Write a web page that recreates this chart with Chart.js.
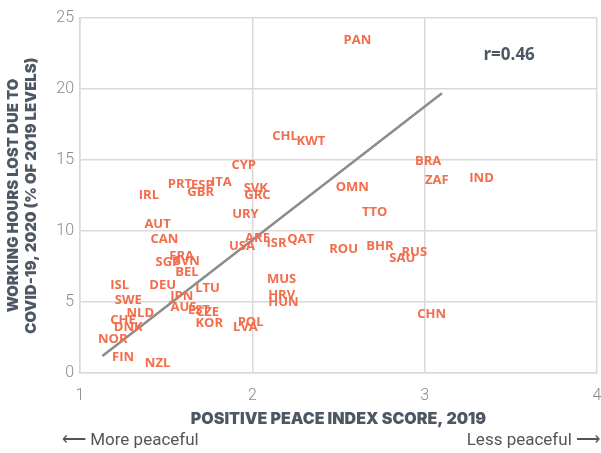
<!DOCTYPE html>
<html>
<head>
<meta charset="utf-8">
<script src="https://cdn.jsdelivr.net/npm/chart.js@4"></script>
<style>
  html, body { margin: 0; padding: 0; background: #fff; }
  #wrap { position: relative; width: 601px; height: 453px; }
</style>
</head>
<body>
<div id="wrap"><canvas id="grafico" width="601" height="453"></canvas></div>
<script>
// datos
const paises = ['PAN','CHL','KWT','CYP','PRT','ESP','ITA','GBR','IRL','SVK','GRC','URY','AUT','CAN','ARE','USA','ISR','QAT','FRA','SGP','SVN','BEL','ISL','DEU','LTU','SWE','JPN','AUS','EST','CZE','NLD','CHE','DNK','KOR','POL','LVA','NOR','FIN','NZL','MUS','HRV','HUN','ROU','OMN','TTO','BRA','ZAF','IND','BHR','RUS','SAU','CHN'];
const indicePaz = [2.61,2.19,2.34,1.95,1.58,1.71,1.82,1.70,1.40,2.02,2.03,1.96,1.45,1.49,2.03,1.94,2.14,2.28,1.59,1.51,1.62,1.62,1.23,1.48,1.74,1.28,1.59,1.60,1.69,1.74,1.35,1.25,1.28,1.75,1.99,1.96,1.19,1.25,1.45,2.17,2.17,2.18,2.53,2.58,2.71,3.02,3.07,3.33,2.74,2.94,2.87,3.04];
const horasPerdidas = [23.4,16.7,16.3,14.6,13.3,13.2,13.4,12.7,12.5,13.0,12.5,11.2,10.5,9.4,9.5,8.9,9.1,9.4,8.2,7.8,7.9,7.1,6.2,6.2,6.0,5.1,5.4,4.6,4.4,4.3,4.2,3.7,3.2,3.5,3.6,3.2,2.4,1.1,0.7,6.6,5.5,5.0,8.7,13.1,11.3,14.9,13.6,13.7,8.9,8.5,8.1,4.1];
const tendenciaX = [1.13, 3.10];
const tendenciaY = [1.2, 19.7];
const ticksX = [1, 2, 3, 4];
const ticksY = [0, 5, 10, 15, 20, 25];

const NARANJA = '#f36c4b';
const GRIS_TEXTO = '#4e5764';

// Etiquetas de país dibujadas en cada punto
const etiquetasPlugin = {
    id: 'etiquetas',
    afterDatasetsDraw(chart) {
        const { ctx } = chart;
        const meta = chart.getDatasetMeta(1);
        ctx.save();
        ctx.font = 'bold 13px "Open Sans", sans-serif';
        ctx.fillStyle = NARANJA;
        ctx.textAlign = 'center';
        ctx.textBaseline = 'middle';
        meta.data.forEach((pt, i) => {
            ctx.fillText(paises[i], pt.x, pt.y);
        });
        // r=0.46
        const xs = chart.scales.x, ys = chart.scales.y;
        ctx.font = 'bold 17px "Open Sans", sans-serif';
        ctx.fillStyle = GRIS_TEXTO;
        ctx.fillText('r=0.46', xs.getPixelForValue(3.49), ys.getPixelForValue(22.4));
        // flechas inferiores
        ctx.font = '17px Roboto, sans-serif';
        ctx.fillStyle = '#555';
        ctx.textAlign = 'left';
        ctx.fillText('\u27F5 More peaceful', 62, 441);
        ctx.textAlign = 'right';
        ctx.fillText('Less peaceful \u27F6', 600, 441);
        ctx.restore();
    }
};

// quitar el relleno automático de los ejes para fijar el área del gráfico
const sinRelleno = (s) => { s.paddingTop = 0; s.paddingBottom = 0; s.paddingLeft = 0; s.paddingRight = 0; };

const ctx = document.getElementById('grafico').getContext('2d');
new Chart(ctx, {
    type: 'scatter',
    data: {
        datasets: [{
            type: 'line',
            data: tendenciaX.map((x, i) => ({ x, y: tendenciaY[i] })),
            borderColor: '#8c8c8c',
            borderWidth: 2.5,
            pointRadius: 0,
            fill: false
        }, {
            data: indicePaz.map((x, i) => ({ x, y: horasPerdidas[i] })),
            pointRadius: 0,
            backgroundColor: NARANJA
        }]
    },
    options: {
        responsive: false,
        animation: false,
        layout: { padding: { top: 18, right: 4, bottom: 24, left: 0 } },
        plugins: {
            legend: { display: false },
            tooltip: { enabled: false }
        },
        scales: {
            x: {
                type: 'linear',
                min: 1, max: 4,
                afterBuildTicks: (s) => { s.ticks = ticksX.map(v => ({ value: v })); },
                ticks: { color: '#8a8a8a', font: { size: 16, family: 'Roboto', weight: '300' }, padding: 13, maxRotation: 0 },
                grid: { color: '#d9d9d9', lineWidth: 1.5, drawTicks: false },
                border: { color: '#d9d9d9', width: 1.5 },
                title: {
                    display: true,
                    text: 'POSITIVE PEACE INDEX SCORE, 2019',
                    color: GRIS_TEXTO,
                    font: { size: 16, weight: '900', family: 'Inter' },
                    padding: { top: 2, bottom: 0 }
                },
                afterFit: (s) => { s.height = 56; sinRelleno(s); }
            },
            y: {
                type: 'linear',
                min: 0, max: 25,
                afterBuildTicks: (s) => { s.ticks = ticksY.map(v => ({ value: v })); },
                ticks: { color: '#8a8a8a', font: { size: 16, family: 'Roboto', weight: '300' }, padding: 6 },
                grid: { color: '#d9d9d9', lineWidth: 1.5, drawTicks: false },
                border: { color: '#d9d9d9', width: 1.5 },
                title: {
                    display: true,
                    text: ['WORKING HOURS LOST DUE TO', 'COVID-19, 2020 (% OF 2019 LEVELS)'],
                    color: GRIS_TEXTO,
                    font: { size: 15, weight: '900', family: 'Inter', lineHeight: 1.2 },
                    padding: { top: 4, bottom: 0 }
                },
                afterFit: (s) => { s.width = 80; sinRelleno(s); }
            }
        }
    },
    plugins: [etiquetasPlugin]
});
</script>
</body>
</html>
